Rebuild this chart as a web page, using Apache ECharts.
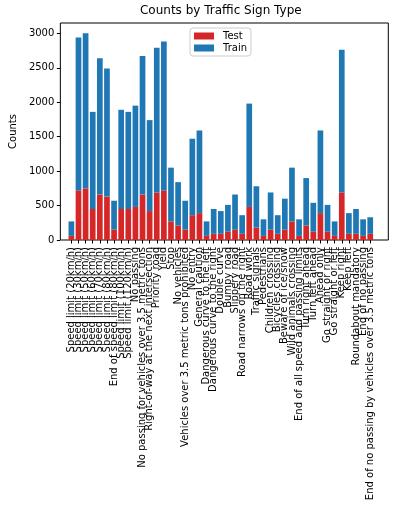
<!DOCTYPE html>
<html>
<head>
<meta charset="utf-8">
<script src="https://cdn.jsdelivr.net/npm/echarts@6/dist/echarts.min.js"></script>
<style>
  html, body { margin: 0; padding: 0; background: #fff; }
  #main { width: 398px; height: 507px; }
</style>
</head>
<body>
<div id="main"></div>
<script>
var signNames = [
  'Speed limit (20km/h)', 'Speed limit (30km/h)', 'Speed limit (50km/h)', 'Speed limit (60km/h)',
  'Speed limit (70km/h)', 'Speed limit (80km/h)', 'End of speed limit (80km/h)', 'Speed limit (100km/h)',
  'Speed limit (120km/h)', 'No passing', 'No passing for vehicles over 3.5 metric tons',
  'Right-of-way at the next intersection', 'Priority road', 'Yield', 'Stop', 'No vehicles',
  'Vehicles over 3.5 metric tons prohibited', 'No entry', 'General caution',
  'Dangerous curve to the left', 'Dangerous curve to the right', 'Double curve', 'Bumpy road',
  'Slippery road', 'Road narrows on the right', 'Road work', 'Traffic signals', 'Pedestrians',
  'Children crossing', 'Bicycles crossing', 'Beware of ice/snow', 'Wild animals crossing',
  'End of all speed and passing limits', 'Turn right ahead', 'Turn left ahead', 'Ahead only',
  'Go straight or right', 'Go straight or left', 'Keep right', 'Keep left',
  'Roundabout mandatory', 'End of no passing', 'End of no passing by vehicles over 3.5 metric tons'
];
var testCounts = [60, 720, 750, 450, 660, 630, 150, 450, 450, 480, 660, 420, 690, 720, 270, 210,
  150, 360, 390, 60, 90, 90, 120, 150, 90, 480, 180, 60, 150, 90, 150, 270, 60, 210, 120, 390,
  120, 60, 690, 90, 90, 60, 90];
var trainCounts = [210, 2220, 2250, 1410, 1980, 1860, 420, 1440, 1410, 1470, 2010, 1320, 2100,
  2160, 780, 630, 420, 1110, 1200, 210, 360, 330, 390, 510, 270, 1500, 600, 240, 540, 270, 450,
  780, 240, 689, 420, 1200, 390, 210, 2070, 300, 360, 240, 240];
var yTicks = [0, 500, 1000, 1500, 2000, 2500, 3000];
var yMax = 3150;

var font = 'DejaVu Sans';
var myChart = echarts.init(document.getElementById('main'));

// matplotlib-like margins: bars sit inside a wider frame
var frameLeft = 53.3, frameRight = 388.3;
var unit = (frameRight - frameLeft) / 47.08;
var barsLeft = frameLeft + 2.54 * unit - unit / 2;
var barsRight = 398 - (barsLeft + signNames.length * unit);

var option = {
  animation: false,
  textStyle: { fontFamily: font },
  title: {
    text: 'Counts by Traffic Sign Type',
    left: 220.8,
    top: 5,
    padding: 0,
    textAlign: 'center',
    textStyle: { fontFamily: font, fontSize: 12, fontWeight: 'normal', color: '#000' }
  },
  legend: {
    data: ['Test', 'Train'],
    orient: 'vertical',
    left: 190,
    top: 28,
    padding: [3, 4, 3, 4],
    itemGap: 2,
    itemWidth: 20,
    itemHeight: 7,
    icon: 'rect',
    backgroundColor: '#fff',
    borderColor: '#cccccc',
    borderWidth: 1,
    borderRadius: 3,
    textStyle: { fontFamily: font, fontSize: 10, color: '#000', padding: [0, 0, 0, 4] }
  },
  grid: [
    { left: barsLeft, right: barsRight, top: 23, bottom: 267, show: false },
    { left: frameLeft, right: 398 - frameRight, top: 23, bottom: 267,
      show: true, borderColor: '#000', borderWidth: 1 }
  ],
  xAxis: [
    {
      type: 'category',
      gridIndex: 0,
      data: signNames,
      axisLine: { show: false },
      splitLine: { show: false },
      axisTick: { show: true, inside: false, length: 3.5, alignWithLabel: true, interval: 0,
        lineStyle: { color: '#000' } },
      axisLabel: { interval: 0, rotate: 90, margin: 7, fontFamily: font, fontSize: 10, color: '#000' }
    },
    { type: 'value', gridIndex: 1, show: false }
  ],
  yAxis: [
    { type: 'value', gridIndex: 0, min: 0, max: yMax, show: false },
    {
      type: 'value',
      gridIndex: 1,
      min: 0,
      max: yMax,
      name: 'Counts',
      nameLocation: 'middle',
      nameRotate: 90,
      nameGap: 41,
      nameTextStyle: { fontFamily: font, fontSize: 10, color: '#000' },
      splitLine: { show: false },
      axisLine: { show: false, onZero: false },
      axisTick: { show: true, inside: false, length: 3.5, customValues: yTicks,
        lineStyle: { color: '#000' } },
      axisLabel: { customValues: yTicks, margin: 6, fontFamily: font, fontSize: 10, color: '#000',
        formatter: function (v) { return String(v); } }
    }
  ],
  series: [
    {
      name: 'Test',
      type: 'bar',
      stack: 'all',
      xAxisIndex: 0,
      yAxisIndex: 0,
      barWidth: '80%',
      itemStyle: { color: '#d62728' },
      data: testCounts
    },
    {
      name: 'Train',
      type: 'bar',
      stack: 'all',
      xAxisIndex: 0,
      yAxisIndex: 0,
      barWidth: '80%',
      itemStyle: { color: '#1f77b4' },
      data: trainCounts
    }
  ]
};
myChart.setOption(option);
</script>
</body>
</html>
